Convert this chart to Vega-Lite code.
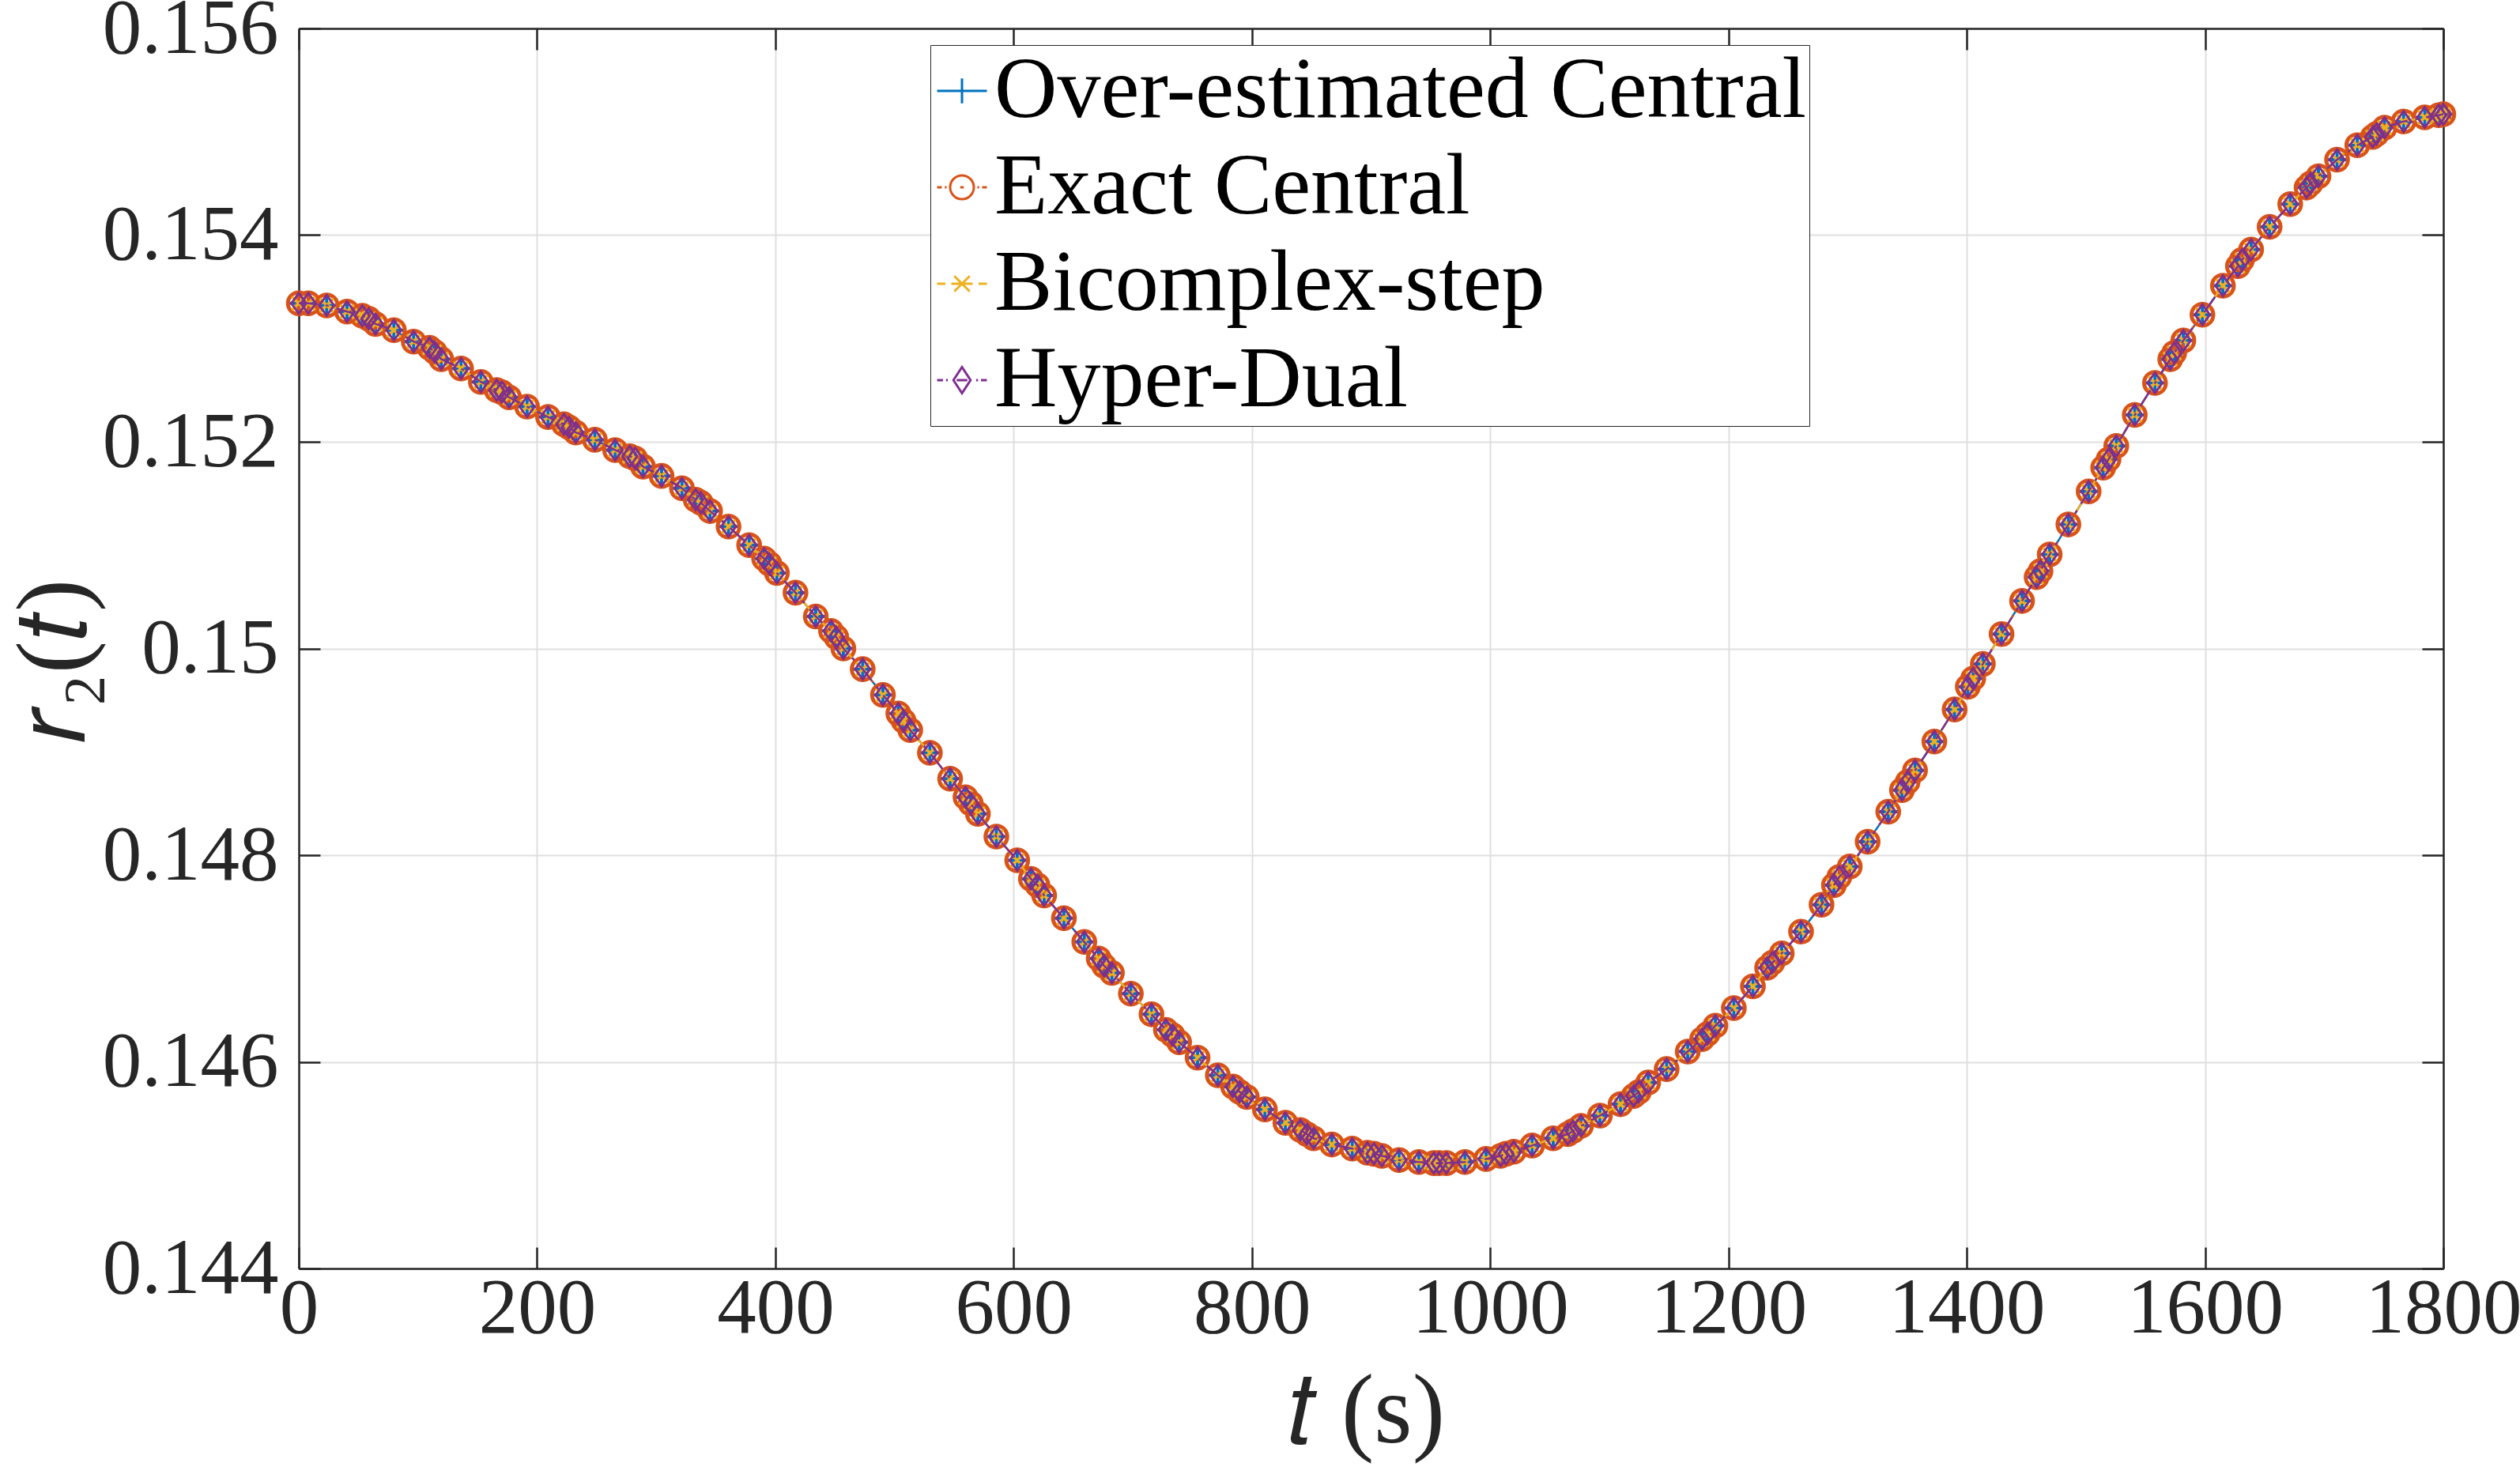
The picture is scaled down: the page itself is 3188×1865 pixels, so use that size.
{
  "$schema": "https://vega.github.io/schema/vega-lite/v6.json",
  "width": 2713,
  "height": 1569,
  "autosize": {"type": "none"},
  "padding": {"left": 378, "top": 36, "right": 97, "bottom": 260},
  "background": "#ffffff",
  "config": {
    "view": {"stroke": null},
    "axis": {
      "labelFont": "Liberation Serif",
      "titleFont": "Liberation Serif",
      "labelColor": "#262626",
      "titleColor": "#262626",
      "titleFontWeight": "normal",
      "tickColor": "#262626",
      "domainColor": "#262626",
      "tickWidth": 2.5,
      "domainWidth": 2.5,
      "tickSize": -27,
      "gridColor": "#dfdfdf",
      "gridWidth": 2,
      "labelOverlap": false,
      "labelFlush": false,
      "labelLimit": 1000
    },
    "legend": {
      "title": null,
      "orient": "none",
      "legendX": 799,
      "legendY": 21,
      "padding": 3,
      "rowPadding": 12,
      "symbolSize": 900,
      "symbolOffset": -18,
      "symbolStrokeWidth": 3,
      "symbolOpacity": 1,
      "symbolFillColor": "transparent",
      "labelOffset": -14,
      "labelFont": "Liberation Serif",
      "labelFontSize": 110,
      "labelColor": "#000000",
      "labelLimit": 3000,
      "strokeColor": "#262626",
      "fillColor": "#ffffff"
    }
  },
  "datasets": {
    "r2series": [
      {"t": 0, "r2": 0.15334}, {"t": 8, "r2": 0.15334}, {"t": 23.4, "r2": 0.15332}, {"t": 40.5, "r2": 0.15326},
      {"t": 53.3, "r2": 0.15322}, {"t": 58.8, "r2": 0.15319}, {"t": 64.4, "r2": 0.15314},
      {"t": 79.8, "r2": 0.15308}, {"t": 96.4, "r2": 0.15297}, {"t": 109.7, "r2": 0.15291}, {"t": 114.1, "r2": 0.15287}, {"t": 119.6, "r2": 0.1528},
      {"t": 136.2, "r2": 0.15271}, {"t": 152.8, "r2": 0.15258}, {"t": 166.1, "r2": 0.1525}, {"t": 170.5, "r2": 0.15248}, {"t": 176.5, "r2": 0.15243},
      {"t": 191.6, "r2": 0.15234}, {"t": 209.2, "r2": 0.15224}, {"t": 222.5, "r2": 0.15217}, {"t": 226.9, "r2": 0.15214}, {"t": 232.5, "r2": 0.15209},
      {"t": 248.5, "r2": 0.15202}, {"t": 265.5, "r2": 0.15192}, {"t": 277.8, "r2": 0.15186}, {"t": 282.3, "r2": 0.15184}, {"t": 288.9, "r2": 0.15176},
      {"t": 304.5, "r2": 0.15167}, {"t": 321.6, "r2": 0.15155}, {"t": 333.1, "r2": 0.15144}, {"t": 337.5, "r2": 0.15141}, {"t": 345.2, "r2": 0.15133},
      {"t": 360.7, "r2": 0.15118}, {"t": 378.0, "r2": 0.151}, {"t": 390.6, "r2": 0.15087}, {"t": 395.0, "r2": 0.15082}, {"t": 401.3, "r2": 0.15073},
      {"t": 416.9, "r2": 0.15054}, {"t": 433.9, "r2": 0.15031}, {"t": 446.7, "r2": 0.15017}, {"t": 451.1, "r2": 0.15011}, {"t": 457.1, "r2": 0.15},
      {"t": 473.3, "r2": 0.1498}, {"t": 490.3, "r2": 0.14955}, {"t": 503.2, "r2": 0.14937}, {"t": 507.6, "r2": 0.1493}, {"t": 513.2, "r2": 0.14921},
      {"t": 529.7, "r2": 0.14899}, {"t": 546.7, "r2": 0.14874}, {"t": 559.6, "r2": 0.14856}, {"t": 564.0, "r2": 0.1485}, {"t": 570.0, "r2": 0.1484},
      {"t": 585.5, "r2": 0.14818}, {"t": 603.0, "r2": 0.14795}, {"t": 614.5, "r2": 0.14777}, {"t": 620.0, "r2": 0.14771}, {"t": 625.6, "r2": 0.14761},
      {"t": 642.2, "r2": 0.14739}, {"t": 659.3, "r2": 0.14716}, {"t": 671.4, "r2": 0.147}, {"t": 675.9, "r2": 0.14693}, {"t": 682.5, "r2": 0.14686},
      {"t": 698.4, "r2": 0.14666}, {"t": 715.7, "r2": 0.14646}, {"t": 727.8, "r2": 0.14631}, {"t": 733.3, "r2": 0.14626}, {"t": 738.9, "r2": 0.14619},
      {"t": 754.4, "r2": 0.14604}, {"t": 771.4, "r2": 0.14587}, {"t": 784.2, "r2": 0.14576}, {"t": 789.7, "r2": 0.14571}, {"t": 795.7, "r2": 0.14566},
      {"t": 810.9, "r2": 0.14554}, {"t": 828.1, "r2": 0.14541}, {"t": 840.7, "r2": 0.14534}, {"t": 846.2, "r2": 0.1453}, {"t": 851.8, "r2": 0.14526},
      {"t": 867.1, "r2": 0.1452}, {"t": 884.2, "r2": 0.14516}, {"t": 896.9, "r2": 0.14512}, {"t": 902.5, "r2": 0.14511}, {"t": 909.1, "r2": 0.14509},
      {"t": 923.5, "r2": 0.14505}, {"t": 940.1, "r2": 0.14503}, {"t": 952.7, "r2": 0.14502}, {"t": 957.1, "r2": 0.14502}, {"t": 963.3, "r2": 0.14502},
      {"t": 978.8, "r2": 0.14503}, {"t": 996.5, "r2": 0.14506}, {"t": 1008.7, "r2": 0.14509}, {"t": 1013.2, "r2": 0.14511}, {"t": 1019.8, "r2": 0.14513},
      {"t": 1035.2, "r2": 0.14519}, {"t": 1052.9, "r2": 0.14526}, {"t": 1065.1, "r2": 0.1453}, {"t": 1069.5, "r2": 0.14533}, {"t": 1076.2, "r2": 0.14538},
      {"t": 1092.1, "r2": 0.14548}, {"t": 1109.4, "r2": 0.14559}, {"t": 1120.4, "r2": 0.14567}, {"t": 1124.8, "r2": 0.14571}, {"t": 1132.6, "r2": 0.1458},
      {"t": 1148.1, "r2": 0.14593}, {"t": 1165.8, "r2": 0.1461}, {"t": 1177.9, "r2": 0.14622}, {"t": 1182.4, "r2": 0.14627}, {"t": 1189.0, "r2": 0.14635},
      {"t": 1204.5, "r2": 0.14652}, {"t": 1220.5, "r2": 0.14673}, {"t": 1232.4, "r2": 0.14691}, {"t": 1236.9, "r2": 0.14696}, {"t": 1244.7, "r2": 0.14705},
      {"t": 1260.9, "r2": 0.14726}, {"t": 1278.1, "r2": 0.14752}, {"t": 1288.5, "r2": 0.14771}, {"t": 1293.0, "r2": 0.14779}, {"t": 1301.8, "r2": 0.14789},
      {"t": 1316.8, "r2": 0.14813}, {"t": 1334.1, "r2": 0.14842}, {"t": 1345.6, "r2": 0.14863}, {"t": 1350.4, "r2": 0.14871}, {"t": 1356.6, "r2": 0.14882},
      {"t": 1372.8, "r2": 0.1491}, {"t": 1389.8, "r2": 0.14941}, {"t": 1400.9, "r2": 0.14963}, {"t": 1405.4, "r2": 0.14971}, {"t": 1413.5, "r2": 0.14985},
      {"t": 1429.2, "r2": 0.15014}, {"t": 1446.4, "r2": 0.15046}, {"t": 1458.6, "r2": 0.15069}, {"t": 1461.9, "r2": 0.15075}, {"t": 1469.6, "r2": 0.15091},
      {"t": 1485.3, "r2": 0.1512}, {"t": 1502.3, "r2": 0.15152}, {"t": 1514.5, "r2": 0.15175}, {"t": 1519.0, "r2": 0.15183}, {"t": 1525.5, "r2": 0.15196},
      {"t": 1541.0, "r2": 0.15226}, {"t": 1558.0, "r2": 0.15257}, {"t": 1570.8, "r2": 0.1528}, {"t": 1574.1, "r2": 0.15286}, {"t": 1581.8, "r2": 0.15298},
      {"t": 1597.8, "r2": 0.15323}, {"t": 1615.0, "r2": 0.15351}, {"t": 1627.6, "r2": 0.1537}, {"t": 1631.0, "r2": 0.15376}, {"t": 1638.7, "r2": 0.15386},
      {"t": 1654.2, "r2": 0.15408}, {"t": 1671.5, "r2": 0.1543}, {"t": 1685.2, "r2": 0.15446}, {"t": 1688.6, "r2": 0.1545}, {"t": 1695.2, "r2": 0.15457},
      {"t": 1710.8, "r2": 0.15473}, {"t": 1727.8, "r2": 0.15487}, {"t": 1740.7, "r2": 0.15495}, {"t": 1744.1, "r2": 0.15498}, {"t": 1750.7, "r2": 0.15504},
      {"t": 1766.7, "r2": 0.1551}, {"t": 1784.4, "r2": 0.15514}, {"t": 1796.1, "r2": 0.15516}, {"t": 1800, "r2": 0.15517}
    ]
  },
  "data": {"name": "r2series"},
  "layer": [
    {
      "mark": {"type": "line", "color": "#0072BD", "strokeWidth": 2.5},
      "encoding": {
        "x": {
          "field": "t", "type": "quantitative",
          "scale": {"domain": [0, 1800], "nice": false, "zero": false},
          "axis": {
            "orient": "bottom",
            "values": [0, 200, 400, 600, 800, 1000, 1200, 1400, 1600, 1800],
            "format": "d",
            "grid": true,
            "labelFontSize": 99,
            "labelPadding": 29,
            "title": "𝑡 (s)",
            "titleFontSize": 124,
            "titleX": 1350,
            "titleY": 219,
            "titleAlign": "center",
            "titleBaseline": "alphabetic"
          }
        },
        "y": {
          "field": "r2", "type": "quantitative",
          "scale": {"domain": [0.144, 0.156], "nice": false, "zero": false},
          "axis": {
            "orient": "left",
            "values": [0.144, 0.146, 0.148, 0.15, 0.152, 0.154, 0.156],
            "format": "~g",
            "grid": true,
            "labelFontSize": 99,
            "labelPadding": 53,
            "title": "𝑟₂(𝑡)",
            "titleFontSize": 124,
            "titleAngle": -90,
            "titleX": -272,
            "titleY": 800,
            "titleAlign": "center",
            "titleBaseline": "alphabetic"
          }
        }
      }
    },
    {
      "mark": {"type": "point", "shape": "M-1,0H1M0,-1V1", "size": 676, "strokeWidth": 4, "filled": false, "opacity": 1, "color": "#0072BD"},
      "encoding": {
        "x": {
          "field": "t", "type": "quantitative",
          "axis": {
            "orient": "top",
            "values": [0, 200, 400, 600, 800, 1000, 1200, 1400, 1600, 1800],
            "labels": false, "grid": false, "title": null
          }
        },
        "y": {
          "field": "r2", "type": "quantitative",
          "axis": {
            "orient": "right",
            "values": [0.144, 0.146, 0.148, 0.15, 0.152, 0.154, 0.156],
            "labels": false, "grid": false, "title": null
          }
        }
      }
    },
    {
      "mark": {"type": "line", "color": "#D95319", "strokeWidth": 2.5, "strokeDash": [3, 9]},
      "encoding": {
        "x": {"field": "t", "type": "quantitative", "axis": null},
        "y": {"field": "r2", "type": "quantitative", "axis": null}
      }
    },
    {
      "mark": {"type": "point", "shape": "circle", "size": 760, "strokeWidth": 5, "filled": false, "opacity": 1, "color": "#D95319"},
      "encoding": {
        "x": {"field": "t", "type": "quantitative", "axis": null},
        "y": {"field": "r2", "type": "quantitative", "axis": null}
      }
    },
    {
      "mark": {"type": "line", "color": "#EDB120", "strokeWidth": 2.5, "strokeDash": [24, 12]},
      "encoding": {
        "x": {"field": "t", "type": "quantitative", "axis": null},
        "y": {"field": "r2", "type": "quantitative", "axis": null}
      }
    },
    {
      "mark": {"type": "point", "shape": "M-1,-1L1,1M-1,1L1,-1", "size": 300, "strokeWidth": 3.5, "filled": false, "opacity": 1, "color": "#EDB120"},
      "encoding": {
        "x": {"field": "t", "type": "quantitative", "axis": null},
        "y": {"field": "r2", "type": "quantitative", "axis": null}
      }
    },
    {
      "mark": {"type": "line", "color": "#7E2F8E", "strokeWidth": 2.5, "strokeDash": [24, 10, 4, 10]},
      "encoding": {
        "x": {"field": "t", "type": "quantitative", "axis": null},
        "y": {"field": "r2", "type": "quantitative", "axis": null}
      }
    },
    {
      "mark": {"type": "point", "shape": "M-0.72,0L0,-1L0.72,0L0,1Z", "size": 676, "strokeWidth": 3, "filled": false, "opacity": 1, "color": "#7E2F8E"},
      "encoding": {
        "x": {"field": "t", "type": "quantitative", "axis": null},
        "y": {"field": "r2", "type": "quantitative", "axis": null}
      }
    },
    {
      "description": "legend key: line style and marker of each series",
      "mark": {"type": "point", "filled": false, "opacity": 0, "strokeWidth": 3},
      "encoding": {
        "x": {"field": "t", "type": "quantitative", "axis": null},
        "y": {"field": "r2", "type": "quantitative", "axis": null},
        "color": {
          "datum": "Over-estimated Central", "type": "nominal",
          "scale": {
            "domain": ["Over-estimated Central", "Exact Central", "Bicomplex-step", "Hyper-Dual"],
            "range": ["#0072BD", "#D95319", "#EDB120", "#7E2F8E"]
          }
        },
        "shape": {
          "datum": "Over-estimated Central", "type": "nominal",
          "scale": {
            "domain": ["Over-estimated Central", "Exact Central", "Bicomplex-step", "Hyper-Dual"],
            "range": [
              "M-2.1,0H2.1M0,-1.05V1.05",
              "M-2.1,0H-1.7M-1.45,0H-1.3M-0.15,0H0.15M1.3,0H1.45M1.7,0H2.1M1,0A1,1,0,1,1,-1,0A1,1,0,1,1,1,0",
              "M-2.1,0H-1.4M-0.9,0H0.9M1.4,0H2.1M-0.65,-0.65L0.65,0.65M-0.65,0.65L0.65,-0.65",
              "M-2.1,0H-1.6M-1.35,0H-1.2M-0.45,0H0.45M1.2,0H1.35M1.6,0H2.1M-0.72,0L0,-1.1L0.72,0L0,1.1Z"
            ]
          }
        }
      }
    },
    {
      "mark": {"type": "point", "filled": false, "opacity": 0, "strokeWidth": 3},
      "encoding": {
        "x": {"field": "t", "type": "quantitative", "axis": null},
        "y": {"field": "r2", "type": "quantitative", "axis": null},
        "color": {"datum": "Exact Central", "type": "nominal"},
        "shape": {"datum": "Exact Central", "type": "nominal"}
      }
    },
    {
      "mark": {"type": "point", "filled": false, "opacity": 0, "strokeWidth": 3},
      "encoding": {
        "x": {"field": "t", "type": "quantitative", "axis": null},
        "y": {"field": "r2", "type": "quantitative", "axis": null},
        "color": {"datum": "Bicomplex-step", "type": "nominal"},
        "shape": {"datum": "Bicomplex-step", "type": "nominal"}
      }
    },
    {
      "mark": {"type": "point", "filled": false, "opacity": 0, "strokeWidth": 3},
      "encoding": {
        "x": {"field": "t", "type": "quantitative", "axis": null},
        "y": {"field": "r2", "type": "quantitative", "axis": null},
        "color": {"datum": "Hyper-Dual", "type": "nominal"},
        "shape": {"datum": "Hyper-Dual", "type": "nominal"}
      }
    }
  ],
  "resolve": {"axis": {"x": "independent", "y": "independent"}}
}
